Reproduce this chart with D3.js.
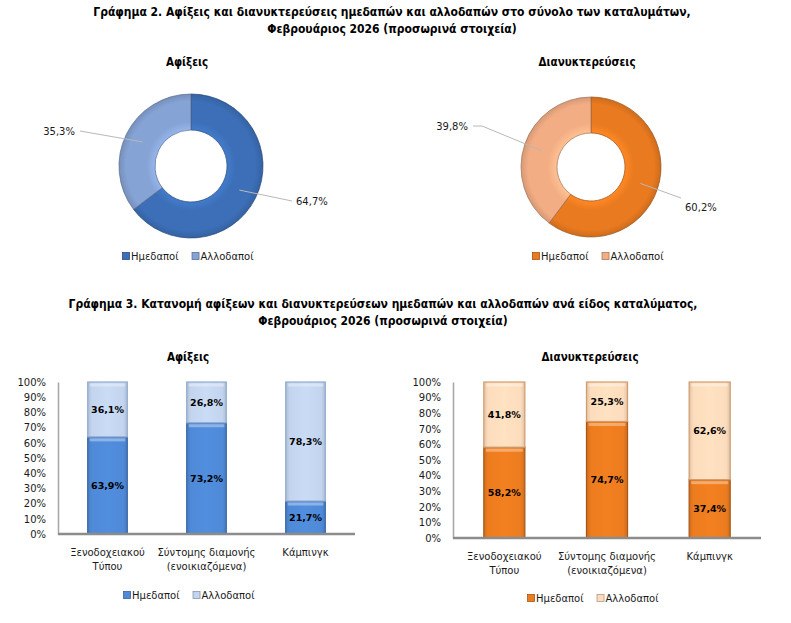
<!DOCTYPE html>
<html><head><meta charset="utf-8">
<script src="https://cdn.jsdelivr.net/npm/d3@7"></script>
<style>
body{margin:0;background:#fff}
svg{display:block;background:#fff}
.ttl{font-family:"Liberation Sans Narrow","DejaVu Sans Condensed",sans-serif;font-weight:bold;font-size:12px;fill:#000}
.sub{font-family:"Liberation Sans Narrow","DejaVu Sans Condensed",sans-serif;font-weight:bold;font-size:11.5px;fill:#000}
.lbl{font-family:"DejaVu Sans",sans-serif;font-size:10px;fill:#1a1a1a}
.val{font-family:"DejaVu Sans",sans-serif;font-size:9.5px;font-weight:bold;fill:#000}
</style></head><body>
<svg id="chart" width="791" height="623"></svg>
<script>
// --- data ---
const seriesNames = ["Ημεδαποί", "Αλλοδαποί"];
const pieArrivals = [64.7, 35.3];
const pieNights = [60.2, 39.8];
const categories = [["Ξενοδοχειακού", "Τύπου"], ["Σύντομης διαμονής", "(ενοικιαζόμενα)"], ["Κάμπινγκ"]];
const arrDomestic = [63.9, 73.2, 21.7];
const arrForeign = [36.1, 26.8, 78.3];
const nightDomestic = [58.2, 74.7, 37.4];
const nightForeign = [41.8, 25.3, 62.6];
const yTicks = [0, 10, 20, 30, 40, 50, 60, 70, 80, 90, 100];
const title2 = ["Γράφημα 2. Αφίξεις και διανυκτερεύσεις ημεδαπών και αλλοδαπών στο σύνολο των καταλυμάτων,", "Φεβρουάριος 2026  (προσωρινά στοιχεία)"];
const title3 = ["Γράφημα 3. Κατανομή αφίξεων και διανυκτερεύσεων ημεδαπών και αλλοδαπών ανά είδος καταλύματος,", "Φεβρουάριος 2026 (προσωρινά στοιχεία)"];
const subTitles = ["Αφίξεις", "Διανυκτερεύσεις"];

const blues = {pie: ["#3c6fb7", "#86a3d5"], bar: ["#4f8ad8", "#c3d5ee"], barStroke: ["#3a68a6", "#93abd0"]};
const oranges = {pie: ["#e97a20", "#f3ad84"], bar: ["#ec7c1f", "#fcdcbc"], barStroke: ["#a8571a", "#d29c6c"]};

const pct = v => d3.format(".1f")(v).replace(".", ",") + "%";

const svg = d3.select("#chart");
const defs = svg.append("defs");

// titles
function title(lines, cx, y) {
  lines.forEach((t, i) => svg.append("text").attr("class", "ttl")
    .attr("x", cx).attr("y", y + i * 17).attr("text-anchor", "middle")
    .attr("dominant-baseline", "central").text(t));
}
title(title2, 392, 12);
title(title3, 383, 304);

let gid = 0;
function shade(c, k) { return d3.color(c)[k > 0 ? "brighter" : "darker"](Math.abs(k)).formatHex(); }

// --- donut ---
function donut(cfg) {
  const g = svg.append("g").attr("transform", `translate(${cfg.cx},${cfg.cy})`);
  const pie = d3.pie().sort(null)(cfg.values);
  const arc = d3.arc().innerRadius(cfg.r0).outerRadius(cfg.r1);
  const mid = d3.arc().innerRadius((cfg.r0 + cfg.r1) / 2).outerRadius((cfg.r0 + cfg.r1) / 2);
  pie.forEach((p, i) => {
    const id = "rg" + (gid++);
    const rg = defs.append("radialGradient").attr("id", id)
      .attr("gradientUnits", "userSpaceOnUse").attr("cx", 0).attr("cy", 0).attr("r", cfg.r1);
    const c = cfg.colors[i];
    rg.append("stop").attr("offset", cfg.r0 / cfg.r1).attr("stop-color", shade(c, 0.3));
    rg.append("stop").attr("offset", 0.62).attr("stop-color", c);
    rg.append("stop").attr("offset", 0.9).attr("stop-color", c);
    rg.append("stop").attr("offset", 1).attr("stop-color", shade(c, -0.35));
    g.append("path").attr("d", arc(p)).attr("fill", `url(#${id})`)
      .attr("stroke", shade(c, -1.2)).attr("stroke-width", 0.7);
  });
  // leader lines + labels
  pie.forEach((p, i) => {
    const [sx, sy] = mid.centroid(p);
    const pts = [[sx, sy]].concat(cfg.leaders[i]);
    g.append("path").attr("d", d3.line()(pts)).attr("fill", "none")
      .attr("stroke", "#b8b8b8").attr("stroke-width", 1);
    const end = pts[pts.length - 1];
    const right = end[0] > 0;
    g.append("text").attr("class", "lbl")
      .attr("x", end[0] + (right ? 4 : -5)).attr("y", end[1] + cfg.labelDy[i])
      .attr("text-anchor", right ? "start" : "end").attr("dominant-baseline", "central")
      .text(pct(p.data));
  });
  svg.append("text").attr("class", "sub").attr("x", cfg.cx - 4).attr("y", 62)
    .attr("text-anchor", "middle").attr("dominant-baseline", "central").text(cfg.title);
  legend(cfg.legendX, cfg.legendY, cfg.colors);
}

function legend(x, y, colors) {
  const g = svg.append("g").attr("transform", `translate(${x},${y})`);
  let off = 0;
  seriesNames.forEach((n, i) => {
    g.append("rect").attr("x", off + 0.5).attr("y", -3.5).attr("width", 7).attr("height", 7)
      .attr("fill", colors[i]).attr("stroke", shade(colors[i], -1)).attr("stroke-width", 0.8);
    const t = g.append("text").attr("class", "lbl").attr("x", off + 9).attr("y", 0)
      .attr("dominant-baseline", "central").text(n);
    off += 9 + t.node().getComputedTextLength() + 13;
  });
}

donut({cx: 191, cy: 166, r0: 36, r1: 72, values: pieArrivals, colors: blues.pie,
  leaders: [[[101, 35]], [[-111, -35]]], labelDy: [0, 0],
  title: subTitles[0], legendX: 122, legendY: 256});
donut({cx: 591, cy: 167, r0: 34, r1: 70, values: pieNights, colors: oranges.pie,
  leaders: [[[90, 31]], [[-109, -41], [-118, -41]]], labelDy: [9, 0],
  title: subTitles[1], legendX: 532, legendY: 256});

// --- stacked bars ---
function bars(cfg) {
  const x = d3.scaleBand().domain(d3.range(categories.length)).range([cfg.x0, cfg.x1])
    .paddingInner(0.6).paddingOuter(0.3);
  const y = d3.scaleLinear().domain([0, 100]).range([cfg.yb, cfg.yt]);
  const g = svg.append("g");

  const ax = g.append("g").attr("transform", `translate(${cfg.x0},0)`)
    .call(d3.axisLeft(y).tickValues(yTicks).tickSize(0).tickPadding(12).tickFormat(d => d + "%"));
  ax.select(".domain").attr("stroke", "#a6a6a6").attr("stroke-width", 1.5);
  ax.selectAll("text").attr("class", "lbl").attr("font-size", null).attr("font-family", null).attr("fill", "#1a1a1a");

  const grads = cfg.pal.bar.map((c, i) => {
    const id = "lg" + (gid++);
    const lg = defs.append("linearGradient").attr("id", id).attr("x1", 0).attr("x2", 1).attr("y1", 0).attr("y2", 0);
    lg.append("stop").attr("offset", 0).attr("stop-color", shade(c, -0.35));
    lg.append("stop").attr("offset", 0.1).attr("stop-color", c);
    lg.append("stop").attr("offset", 0.5).attr("stop-color", shade(c, 0.08));
    lg.append("stop").attr("offset", 0.9).attr("stop-color", c);
    lg.append("stop").attr("offset", 1).attr("stop-color", shade(c, -0.35));
    return id;
  });

  const segs = [];
  cfg.dom.forEach((v, i) => {
    segs.push({i, s: 0, lo: 0, hi: v, v});
    segs.push({i, s: 1, lo: v, hi: v + cfg.for[i], v: cfg.for[i]});
  });
  g.selectAll("rect.seg").data(segs).join("rect").attr("class", "seg")
    .attr("x", d => x(d.i)).attr("width", x.bandwidth())
    .attr("y", d => y(d.hi)).attr("height", d => y(d.lo) - y(d.hi))
    .attr("fill", d => `url(#${grads[d.s]})`)
    .attr("stroke", d => cfg.pal.barStroke[d.s]).attr("stroke-width", 1.2);
  // top highlight
  g.selectAll("rect.hl").data(segs).join("rect").attr("class", "hl")
    .attr("x", d => x(d.i) + 2).attr("width", x.bandwidth() - 4)
    .attr("y", d => y(d.hi) + 1.5).attr("height", 3)
    .attr("fill", "#fff").attr("opacity", 0.35);
  g.selectAll("text.val").data(segs).join("text").attr("class", "val")
    .attr("x", d => x(d.i) + x.bandwidth() / 2).attr("y", d => y((d.lo + d.hi) / 2))
    .attr("text-anchor", "middle").attr("dominant-baseline", "central").text(d => pct(d.v));

  g.append("line").attr("x1", cfg.x0).attr("x2", cfg.x1).attr("y1", cfg.yb).attr("y2", cfg.yb)
    .attr("stroke", "#8c8c8c").attr("stroke-width", 2.5);

  categories.forEach((lines, i) => {
    const t = g.append("text").attr("class", "lbl").attr("text-anchor", "middle");
    lines.forEach((l, j) => t.append("tspan").attr("x", x(i) + x.bandwidth() / 2)
      .attr("y", cfg.yb + 18 + j * 14).attr("dominant-baseline", "central").text(l));
  });
  svg.append("text").attr("class", "sub").attr("x", cfg.titleX).attr("y", 357)
    .attr("text-anchor", "middle").attr("dominant-baseline", "central").text(cfg.title);
  legend(cfg.legendX, cfg.legendY, cfg.pal.bar);
}

bars({x0: 58, x1: 355, yt: 382, yb: 534, dom: arrDomestic, for: arrForeign, pal: blues,
  title: subTitles[0], titleX: 188, legendX: 123, legendY: 595});
bars({x0: 453, x1: 761, yt: 382, yb: 538, dom: nightDomestic, for: nightForeign, pal: oranges,
  title: subTitles[1], titleX: 590, legendX: 527, legendY: 598});
</script>
</body></html>
